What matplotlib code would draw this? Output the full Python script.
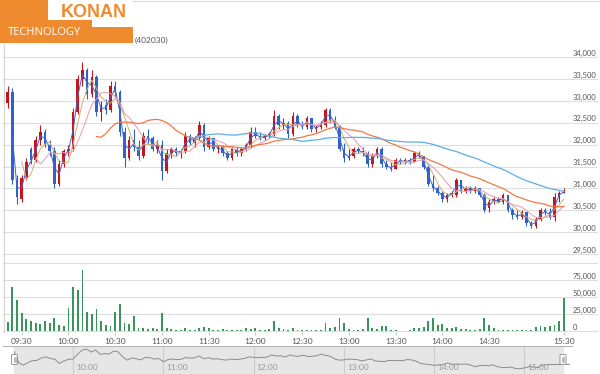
import matplotlib
matplotlib.use("Agg")
import matplotlib.pyplot as plt
import matplotlib.transforms as mtransforms
from matplotlib.patches import Polygon, FancyBboxPatch
import numpy as np
import pandas as pd

plt.rcParams["font.family"] = ["Lato", "DejaVu Sans"]

# 3-minute candles (09:21 .. 15:15, then the 15:30 close)
times = list(pd.date_range("09:21", "15:15", freq="3min").strftime("%H:%M")) + ["15:30"]

opens = [32950, 33200, 31200, 30750, 31250, 31900, 31650, 32100, 32300, 32000,
         31850, 31100, 31550, 31850, 31900, 32750, 33500, 33700, 33150, 33550,
         32750, 32900, 32800, 33350, 33200, 32300, 31700, 32100, 31950, 31750,
         32200, 32150, 31900, 32000, 31400, 31800, 31900, 31800, 31850, 32200,
         32050, 32150, 32450, 31950, 32150, 31900, 31950, 31800, 31700, 31900,
         31800, 31900, 32000, 32300, 32200, 32150, 32200, 32250, 32650, 32450,
         32500, 32250, 32650, 32450, 32400, 32600, 32350, 32400, 32450, 32800,
         32550, 32400, 31900, 31700, 31750, 31900, 31850, 31800, 31550, 31750,
         31900, 31550, 31500, 31450, 31650, 31600, 31650, 31600, 31800, 31750,
         31500, 31100, 31000, 30900, 30750, 30850, 30850, 31200, 30950, 31000,
         30950, 31000, 30850, 30550, 30700, 30750, 30700, 30850, 30500, 30400,
         30350, 30450, 30200, 30150, 30300, 30500, 30450, 30350, 30800, 30900]
highs = [33350, 33300, 31300, 31300, 31700, 31950, 32200, 32450, 32350, 32100,
         31950, 31650, 31900, 32000, 32850, 33600, 33900, 33750, 33700, 33600,
         33000, 33050, 33450, 33450, 33250, 32400, 32200, 32350, 32100, 32300,
         32350, 32200, 32100, 32100, 31900, 31950, 31950, 31900, 32300, 32250,
         32200, 32550, 32500, 32200, 32150, 32000, 32000, 31850, 31950, 31950,
         31950, 32050, 32400, 32400, 32300, 32250, 32300, 32800, 32700, 32600,
         32550, 32750, 32700, 32550, 32650, 32600, 32450, 32550, 32850, 32850,
         32650, 32450, 32050, 31900, 31950, 31950, 31950, 31850, 31800, 31950,
         31950, 31650, 31600, 31700, 31700, 31700, 31700, 31850, 31850, 31750,
         31550, 31300, 31050, 30950, 30900, 30950, 31250, 31200, 31050, 31050,
         31050, 31000, 30900, 30750, 30800, 30800, 30900, 30850, 30550, 30500,
         30500, 30450, 30250, 30350, 30550, 30550, 30550, 30900, 30950, 31000]
lows = [32850, 31100, 30650, 30700, 31200, 31550, 31600, 32000, 31950, 31750,
        31000, 31050, 31500, 31750, 31850, 32700, 33350, 33050, 33100, 32650,
        32550, 32700, 32750, 33100, 32200, 31500, 31650, 31850, 31650, 31700,
        32050, 31850, 31800, 31200, 31350, 31700, 31750, 31700, 31800, 32000,
        31950, 32100, 31850, 31900, 31850, 31800, 31750, 31650, 31650, 31750,
        31750, 31850, 31950, 32150, 32100, 32100, 32150, 32200, 32350, 32350,
        32150, 32200, 32400, 32350, 32350, 32300, 32300, 32350, 32400, 32500,
        32350, 31850, 31600, 31650, 31700, 31800, 31750, 31500, 31500, 31700,
        31500, 31450, 31400, 31450, 31550, 31550, 31550, 31600, 31700, 31450,
        31050, 30950, 30850, 30700, 30700, 30800, 30800, 30900, 30900, 30900,
        30900, 30800, 30450, 30450, 30650, 30700, 30650, 30450, 30300, 30300,
        30300, 30150, 30100, 30100, 30250, 30400, 30300, 30250, 30700, 30900]
closes = [33200, 31200, 30800, 31250, 31600, 31650, 32100, 32300, 32000, 31850,
          31100, 31550, 31850, 31900, 32750, 33500, 33700, 33150, 33550, 32750,
          32900, 32800, 33350, 33200, 32300, 31700, 32100, 31950, 31750, 32200,
          32150, 31900, 32000, 31400, 31800, 31900, 31800, 31850, 32200, 32050,
          32150, 32450, 31950, 32150, 31900, 31950, 31800, 31700, 31900, 31800,
          31900, 32000, 32300, 32200, 32150, 32200, 32250, 32650, 32450, 32500,
          32250, 32650, 32450, 32400, 32600, 32350, 32400, 32500, 32800, 32550,
          32400, 31900, 31700, 31750, 31900, 31850, 31800, 31550, 31750, 31900,
          31550, 31500, 31450, 31650, 31600, 31650, 31600, 31800, 31750, 31500,
          31100, 31000, 30900, 30750, 30850, 30900, 31200, 30950, 31000, 30950,
          31000, 30850, 30500, 30700, 30750, 30700, 30850, 30500, 30400, 30350,
          30450, 30200, 30150, 30300, 30500, 30450, 30350, 30800, 30900, 30950]
volumes = [13000, 65000, 45000, 27000, 18000, 15000, 12000, 10000, 14000, 12000,
           19000, 9000, 8000, 34000, 65000, 60000, 90000, 28000, 25000, 32000,
           14000, 9000, 8000, 28000, 40000, 12000, 10000, 22000, 4000, 5000,
           3000, 4000, 3000, 27000, 5000, 3000, 2000, 2000, 4000, 2000,
           1500, 5000, 6000, 4000, 1000, 1000, 3000, 1000, 2000, 1500,
           1500, 4000, 3000, 4000, 1000, 1000, 3000, 15000, 4000, 3000,
           2000, 5000, 2000, 1000, 1500, 1000, 1000, 1000, 12000, 5000,
           6000, 19000, 12000, 3000, 2000, 2000, 3000, 19000, 4000, 3000,
           8000, 8000, 1000, 1000, 500, 500, 1000, 4000, 5000, 6000,
           15000, 19000, 9000, 10000, 5000, 4000, 6000, 3000, 3000, 2000,
           2000, 3000, 19000, 9000, 5000, 2000, 1000, 1500, 1000, 1500,
           1000, 1000, 2000, 6000, 7000, 6000, 8000, 9000, 15000, 48000]

price_ticks = [29500, 30000, 30500, 31000, 31500, 32000, 32500, 33000, 33500, 34000]
volume_ticks = [0, 25000, 50000, 75000]
time_labels = ["09:30", "10:00", "10:30", "11:00", "11:30", "12:00", "12:30",
               "13:00", "13:30", "14:00", "14:30", "15:30"]
nav_hours = ["10:00", "11:00", "12:00", "13:00", "14:00", "15:00"]
ma_windows = [2, 4, 7, 20, 40]

W, H = 600, 374


def box(x0, y0, x1, y1):
    return [x0 / W, 1 - y1 / H, (x1 - x0) / W, (y1 - y0) / H]


def minutes(t):
    h, m = t.split(":")
    return int(h) * 60 + int(m)


fig = plt.figure(figsize=(6, 3.74), dpi=100)
ax = fig.add_axes(box(3, 43, 598, 259))
axv = fig.add_axes(box(3, 259, 598, 332), sharex=ax)
axn = fig.add_axes(box(3, 346, 572, 374))

o, h, l, c = map(np.array, (opens, highs, lows, closes))
k = np.arange(len(c))
grid_c = "#dedede"
txt_c = "#555555"
lab_x = (573 - 3) / 595

for a in (ax, axv):
    a.set_facecolor("none")
    for s in a.spines.values():
        s.set_visible(False)
ax.set_xlim(-1.0, 126.3)
ax.set_ylim(29386, 34327)
axv.set_ylim(-1470, 105880)

# price panel
lab_tr = mtransforms.offset_copy(mtransforms.blended_transform_factory(ax.transAxes, ax.transData),
                                 fig=fig, y=1.5, units="dots")
for v in price_ticks:
    ax.axhline(v, color=grid_c, lw=0.8, zorder=0)
    ax.text(lab_x, v, f"{v:,}", transform=lab_tr, fontsize=5.5, color=txt_c,
            va="baseline", ha="left")

up = c >= o
colors = np.where(up, "#c3161c", "#2f62c6")
ax.vlines(k, l, h, colors=colors, lw=0.8, zorder=2)
ax.bar(k, np.maximum(np.abs(c - o), 15), bottom=np.minimum(o, c), width=0.55,
       color=colors, zorder=3)

ma_colors = ["#3f62d6", "#c9b074", "#e59ab2", "#f07a45", "#5bb0e0"]
ma_widths = [0.7, 0.7, 0.7, 0.9, 0.9]
series = pd.Series(c)
for w, col, lw in zip(ma_windows, ma_colors, ma_widths):
    ax.plot(k, series.rolling(w).mean(), color=col, lw=lw, zorder=4)
ax.tick_params(bottom=False, labelbottom=False, left=False, labelleft=False)

# volume panel
vol_tr = mtransforms.offset_copy(mtransforms.blended_transform_factory(axv.transAxes, axv.transData),
                                 fig=fig, y=1.5, units="dots")
for v in volume_ticks + [100000]:
    axv.axhline(v, color=grid_c, lw=0.8, zorder=0)
for v in volume_ticks:
    axv.text(lab_x, v, f"{v:,}", transform=vol_tr, fontsize=5.5, color=txt_c,
             va="baseline", ha="left")
axv.bar(k, volumes, width=0.4, color="#3a955c", zorder=2)
axv.set_xticks([times.index(t) for t in time_labels])
axv.set_xticklabels(time_labels)
axv.tick_params(axis="x", length=2.5, width=0.6, color="#bbbbbb", labelsize=6,
                labelcolor=txt_c, pad=1.5)
axv.tick_params(axis="y", left=False, labelleft=False)

# navigator
nav_t = [minutes(t) for t in times]
axn.set_xlim(553.5, 931.6)
axn.set_ylim(29195, 34262)
axn.axvspan(560.8, 925.6, color="#e6e6e6", zorder=0)
for t in nav_hours:
    m = minutes(t)
    axn.axvline(m, color="#cccccc", lw=0.8, zorder=1)
    axn.text(m + 2, 0.1, t, transform=axn.get_xaxis_transform(), fontsize=6,
             color="#9a9a9a", va="bottom", ha="left")
axn.plot(nav_t, c, color="#8c8c8c", lw=0.7, zorder=2)
for s in ("left", "right", "bottom"):
    axn.spines[s].set_visible(False)
axn.spines["top"].set_color("#b5b5b5")
axn.spines["top"].set_linewidth(0.8)
axn.set_xticks([])
axn.set_yticks([])
axn.set_facecolor("none")

# overlay in pixel coordinates: logo, borders, navigator handles
over = fig.add_axes([0, 0, 1, 1])
over.set_xlim(0, W)
over.set_ylim(H, 0)
over.axis("off")
orange = "#ef8b2f"
over.add_patch(Polygon([(0, 0), (48, 0), (48, 19.5), (92, 19.5), (92, 27), (133, 27),
                        (133, 43), (0, 43)], closed=True, fc=orange, ec="none"))
over.text(93.5, 12.5, "KONAN", fontsize=13, fontweight="bold", color=orange,
          ha="center", va="center", family=["Liberation Sans", "DejaVu Sans"])
over.text(8, 32.5, "TECHNOLOGY", fontsize=8, color="white", ha="left", va="center",
          family=["Open Sans", "DejaVu Sans"])
over.text(135, 40, "(402030)", fontsize=6, color=txt_c, ha="left", va="center")
over.plot([133, 600], [0.5, 0.5], color="#d8d8d8", lw=0.8)
over.plot([3.5, 3.5], [45, 332], color="#d0d0d0", lw=0.8)
for hx in (11.5, 560):
    over.add_patch(FancyBboxPatch((hx, 354.5), 6, 10, boxstyle="round,pad=0,rounding_size=1.2",
                                  fc="white", ec="#8a8a8a", lw=0.6))
    for dx in (2, 3, 4):
        over.plot([hx + dx, hx + dx], [357, 362], color="#8a8a8a", lw=0.4)

fig.savefig("out.png", dpi=100)
